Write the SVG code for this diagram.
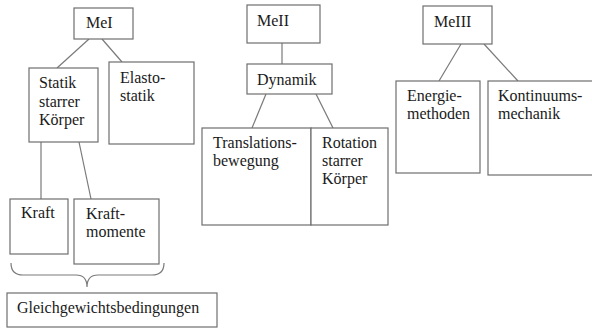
<svg xmlns="http://www.w3.org/2000/svg" width="592" height="329" viewBox="0 0 592 329">
<style>
rect{fill:#fff;stroke:#6e6e6e;stroke-width:1.2}
.c line,.c path{stroke:#7a7a7a;stroke-width:1.2;fill:none}
text{font-family:'Liberation Serif','DejaVu Serif',serif;font-size:16px;fill:#1a1a1a}
</style>
<rect x="0" y="0" width="592" height="329" style="stroke:none"/>
<g class="c" id="connectors">
<line x1="89" y1="39" x2="57" y2="68"/>
<line x1="102" y1="39" x2="122" y2="62"/>
<line x1="41" y1="142" x2="41" y2="199"/>
<line x1="79" y1="142" x2="91" y2="199"/>
<line x1="282" y1="43" x2="282" y2="64"/>
<line x1="266" y1="94" x2="252" y2="128"/>
<line x1="316" y1="94" x2="333" y2="128"/>
<line x1="461" y1="44" x2="439" y2="81"/>
<line x1="484" y1="44" x2="518" y2="81"/>
<path d="M11 263 Q11 275 23 275 L76 275 Q87 275 87 287 Q87 275 98 275 L152 275 Q164 275 164 263"/>
</g>
<g font-family="Liberation Serif, serif">
<g id="MeI"><rect x="74" y="8" width="59" height="31"/><text x="86" y="28">MeI</text></g>
<g id="Statik"><rect x="29" y="68" width="69" height="74"/><text x="39" y="88">Statik</text><text x="39" y="107">starrer</text><text x="39" y="125">Körper</text></g>
<g id="Elasto"><rect x="109" y="62" width="85" height="82"/><text x="120" y="83">Elasto-</text><text x="120" y="101">statik</text></g>
<g id="Kraft"><rect x="10" y="199" width="58" height="55"/><text x="21" y="218">Kraft</text></g>
<g id="Kraftmomente"><rect x="74" y="199" width="85" height="65"/><text x="86" y="219">Kraft-</text><text x="86" y="237">momente</text></g>
<g id="Gleich"><rect x="7" y="293" width="210" height="34"/><text x="17" y="313">Gleichgewichtsbedingungen</text></g>
<g id="MeII"><rect x="247" y="5" width="73" height="38"/><text x="257" y="26">MeII</text></g>
<g id="Dynamik"><rect x="247" y="64" width="85" height="30"/><text x="257" y="85">Dynamik</text></g>
<g id="Translation"><rect x="202" y="128" width="109" height="97"/><text x="213" y="148">Translations-</text><text x="213" y="166">bewegung</text></g>
<g id="Rotation"><rect x="311" y="128" width="77" height="97"/><text x="322" y="148">Rotation</text><text x="322" y="166">starrer</text><text x="322" y="184">Körper</text></g>
<g id="MeIII"><rect x="423" y="6" width="69" height="38"/><text x="434" y="27">MeIII</text></g>
<g id="Energie"><rect x="396" y="81" width="84" height="92"/><text x="407" y="101">Energie-</text><text x="407" y="119">methoden</text></g>
<g id="Kontinuum"><rect x="488" y="81" width="110" height="94"/><text x="498" y="101">Kontinuums-</text><text x="498" y="119">mechanik</text></g>
</g>
</svg>
